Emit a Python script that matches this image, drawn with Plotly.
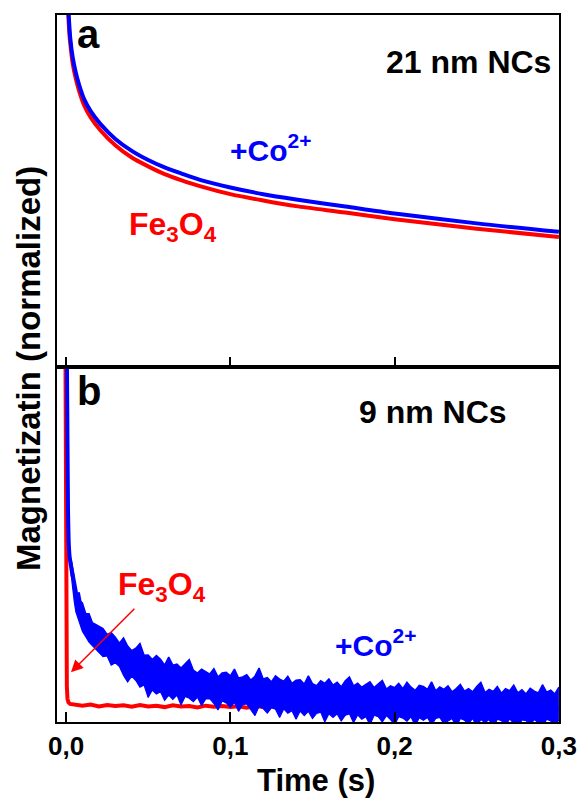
import numpy as np
import plotly.graph_objects as go

W, H = 579, 801          # target picture size
FIG_W = 598              # figure width that the viewer maps onto the 579 px picture
X_OFF, X_SCALE = 8.0, 0.955   # measured horizontal mapping: picture_x = X_OFF + X_SCALE * fig_x
RED = "#FF0000"
BLUE = "#0000FF"
FONT = "Liberation Sans, Arial, sans-serif"

# ---------------- Panel a : 21 nm NCs (normalized magnetization, a.u.) ----------------
t_a_fe = [0.0009, 0.0014, 0.002, 0.0025, 0.004, 0.006, 0.008, 0.011, 0.015, 0.021, 0.03,
          0.04, 0.05, 0.06, 0.07, 0.082, 0.10, 0.12, 0.14, 0.17, 0.20, 0.25, 0.30]
m_a_fe = [105.7, 100.0, 94.9, 92.3, 86.4, 81.8, 78.4, 74.4, 70.9, 67.2, 63.0,
          59.5, 57.0, 54.8, 53.1, 51.3, 49.1, 47.3, 45.7, 43.9, 42.0, 39.3, 36.9]
t_a_co = [0.001, 0.0015, 0.0018, 0.0025, 0.004, 0.006, 0.008, 0.011, 0.015, 0.021, 0.03,
          0.04, 0.05, 0.06, 0.07, 0.082, 0.10, 0.12, 0.14, 0.17, 0.20, 0.25, 0.30]
m_a_co = [105.7, 100.9, 98.6, 93.8, 88.1, 83.5, 80.1, 76.1, 72.7, 69.0, 64.8,
          61.4, 58.8, 56.7, 55.0, 53.1, 51.0, 49.1, 47.6, 45.6, 43.6, 40.8, 38.4]

# ---------------- Panel b : 9 nm NCs ----------------
t_b_fe_drop = [-0.0004, -0.0001, 0.0002, 0.0005, 0.0009, 0.0015, 0.0025, 0.004]
m_b_fe_drop = [110, 60, 25, 10, 6.5, 5.5, 5.1, 5.0]
FE_FLAT_T0, FE_FLAT_DT = 0.005, 0.005
m_b_fe_flat = [5.0, 4.6, 4.9, 4.4, 4.8, 4.5, 4.7, 4.3, 4.8, 4.4,
               4.6, 4.2, 4.7, 4.4, 4.5, 4.1, 4.6, 4.3, 4.5, 4.2,
               4.4, 4.0, 4.5, 4.2, 4.4, 4.1, 4.3, 3.9, 4.4, 4.1,
               4.2, 3.9, 4.3, 4.0, 4.2, 3.8, 4.2, 3.9, 4.1, 3.8,
               4.1, 3.8, 4.0, 3.7, 4.1, 3.8, 4.0, 3.7, 3.9, 3.6,
               4.0, 3.7, 3.9, 3.6, 3.9, 3.7, 3.8, 3.6, 3.8, 3.7]

t_b_co_steep = [0.0003, 0.0006, 0.0009, 0.0012, 0.0016, 0.0022, 0.003, 0.004]
m_b_co_steep = [110, 98, 78, 60, 51, 46.5, 44, 41]
t_b_band_early = [0.003, 0.004, 0.005, 0.006, 0.007, 0.008, 0.009, 0.010,
                  0.012, 0.014, 0.016, 0.018, 0.020]
hi_b_band_early = [46, 43.5, 40, 38.5, 36, 36.5, 34, 33.5, 30.5, 30.5, 28, 27.5, 27]
lo_b_band_early = [42, 37.5, 34, 31, 29.5, 28, 27, 25.5, 24, 22.5, 21.5, 20.5, 19.5]
BAND_T0, BAND_DT = 0.0225, 0.0025
hi_b_band = [26.3, 24.7, 25.2, 23.9, 22.2, 23.7, 21.4, 20.1, 20.8, 22.1,
             18.8, 18.9, 17.6, 18.7, 17.7, 16.0, 18.3, 16.0, 16.3, 15.2,
             16.4, 17.6, 14.6, 13.8, 14.9, 14.3, 13.5, 15.0, 12.7, 13.8,
             14.0, 13.0, 14.9, 12.4, 12.7, 13.3, 11.8, 12.9, 15.2, 12.1,
             12.5, 11.3, 13.0, 12.1, 11.5, 12.9, 10.9, 11.8, 11.9, 10.7,
             13.0, 10.8, 10.2, 11.6, 10.9, 12.1, 10.4, 11.2, 9.9, 11.6,
             12.7, 10.2, 10.9, 9.8, 10.5, 11.3, 9.7, 10.7, 11.7, 9.3,
             10.2, 9.7, 10.9, 9.4, 11.2, 9.8, 8.9, 10.3, 10.0, 9.2,
             11.3, 8.8, 9.9, 9.2, 10.2, 8.5, 9.4, 10.6, 8.7, 9.4,
             8.5, 10.0, 11.2, 8.3, 9.2, 8.6, 10.0, 8.1, 9.4, 8.8,
             10.4, 8.2, 9.1, 7.9, 9.5, 8.7, 8.2, 10.5, 8.4, 9.0,
             7.9, 9.8]
lo_b_band = [18.4, 18.6, 16.0, 16.7, 15.6, 13.1, 11.3, 12.9, 11.7, 9.8,
             10.4, 6.9, 9.0, 7.9, 8.5, 6.1, 7.6, 6.4, 7.6, 4.8,
             7.2, 6.7, 5.7, 7.0, 4.6, 6.5, 6.6, 5.2, 3.4, 5.9,
             5.4, 4.1, 5.5, 3.0, 4.9, 5.1, 3.6, 1.8, 4.4, 3.8,
             2.5, 4.0, 3.6, 1.3, 3.7, 2.5, 3.2, 0.8, 3.1, 1.8,
             3.0, 1.0, 2.4, 2.8, 0.0, 2.3, 1.3, 2.3, 0.3, 1.9,
             2.3, -0.2, 2.0, 0.8, 1.5, -0.8, 1.9, 1.5, 0.0, 1.8,
             0.7, -0.8, 1.5, 1.1, 0.2, 1.5, -1.1, 1.2, 0.5, 1.3,
             -0.8, 1.0, 1.3, -0.5, 0.3, 1.0, -1.5, 1.0, 0.5, -0.5,
             1.0, -1.3, 0.7, -0.2, 0.7, -1.7, 0.8, 0.4, -1.1, 0.9,
             -0.4, -1.6, 0.6, 0.4, -0.9, 0.7, -0.2, -1.7, 0.8, 0.3,
             -1.2, 0.6]

X_TICKS = [0.0, 0.1, 0.2, 0.3]
X_RANGE = [-0.0055, 0.3]

t_b_fe = t_b_fe_drop + list(np.round(FE_FLAT_T0 + FE_FLAT_DT * np.arange(len(m_b_fe_flat)), 4))
m_b_fe = m_b_fe_drop + m_b_fe_flat
t_band = t_b_band_early + list(np.round(BAND_T0 + BAND_DT * np.arange(len(hi_b_band)), 4))
hi_band = hi_b_band_early + hi_b_band
lo_band = lo_b_band_early + lo_b_band

fig = go.Figure()
fig.add_trace(go.Scatter(x=t_a_fe, y=m_a_fe, mode="lines", xaxis="x2", yaxis="y2",
                         line=dict(color=RED, width=4, shape="spline", smoothing=0.8),
                         showlegend=False))
fig.add_trace(go.Scatter(x=t_a_co, y=m_a_co, mode="lines", xaxis="x2", yaxis="y2",
                         line=dict(color=BLUE, width=4, shape="spline", smoothing=0.8),
                         showlegend=False))
fig.add_trace(go.Scatter(x=t_b_fe, y=m_b_fe, mode="lines", xaxis="x", yaxis="y",
                         line=dict(color=RED, width=4), showlegend=False))
fig.add_trace(go.Scatter(x=t_band, y=lo_band, mode="lines", xaxis="x", yaxis="y",
                         line=dict(color=BLUE, width=1.2), showlegend=False))
fig.add_trace(go.Scatter(x=t_band, y=hi_band, mode="lines", xaxis="x", yaxis="y",
                         line=dict(color=BLUE, width=1.5), fill="tonexty",
                         fillcolor=BLUE, showlegend=False))
fig.add_trace(go.Scatter(x=t_b_co_steep, y=m_b_co_steep, mode="lines", xaxis="x", yaxis="y",
                         line=dict(color=BLUE, width=4, shape="spline", smoothing=0.5),
                         showlegend=False))

def fxp(xp):
    """picture x (px) -> paper fraction of the figure"""
    return ((xp - X_OFF) / X_SCALE) / FIG_W

def fyp(yp):
    return 1 - yp / H

XD = [fxp(56), fxp(558)]
YD_B = [fyp(722), fyp(367)]
YD_A = [fyp(367), fyp(15)]

axis_common = dict(showline=True, linewidth=2, linecolor="black", mirror=True,
                   showgrid=False, zeroline=False)
fig.update_layout(
    width=FIG_W, height=H, autosize=False, margin=dict(l=0, r=0, t=0, b=0),
    paper_bgcolor="white", plot_bgcolor="white",
    separators=", ",
    xaxis=dict(domain=XD, range=X_RANGE, anchor="y", tickvals=X_TICKS,
               tickformat=".1f", ticks="inside", ticklen=10, tickwidth=2, tickcolor="black",
               tickfont=dict(family=FONT, size=26, color="black", weight="bold"),
               **axis_common),
    yaxis=dict(domain=YD_B, range=[0, 100], anchor="x", showticklabels=False, ticks="",
               **axis_common),
    xaxis2=dict(domain=XD, range=X_RANGE, anchor="y2", tickvals=X_TICKS,
                showticklabels=False, ticks="inside", ticklen=10, tickwidth=2, tickcolor="black",
                **axis_common),
    yaxis2=dict(domain=YD_A, range=[0, 100], anchor="x2", showticklabels=False, ticks="",
                **axis_common),
)

def label(text, xp, yp, size, color="black", xanchor="center", angle=0):
    fig.add_annotation(x=fxp(xp), y=fyp(yp), xref="paper", yref="paper",
                       text="<b>" + text + "</b>",
                       showarrow=False, xanchor=xanchor, yanchor="middle", textangle=angle,
                       font=dict(family=FONT, size=size, color=color))

label("a", 88, 34, 40)
label("b", 88, 391, 40)
label("21 nm NCs", 552, 62, 32, xanchor="right")
label("9 nm NCs", 432, 412, 32)
label("+Co<sup>2+</sup>", 270, 148, 30, color=BLUE)
label("Fe<sub>3</sub>O<sub>4</sub>", 172, 226, 32, color=RED)
label("Fe<sub>3</sub>O<sub>4</sub>", 161, 586, 32, color=RED)
label("+Co<sup>2+</sup>", 375, 643, 30, color=BLUE)
label("Time (s)", 315, 780, 31)
label("Magnetizatin (normalized)", 27, 368, 33, angle=-90)

fig.add_annotation(x=0.003, y=14, xref="x", yref="y", text="", showarrow=True,
                   ax=62 / X_SCALE, ay=-65, axref="pixel", ayref="pixel",
                   arrowcolor=RED, arrowwidth=1.5, arrowhead=2, arrowsize=1.6)

fig.write_html("out.html")
